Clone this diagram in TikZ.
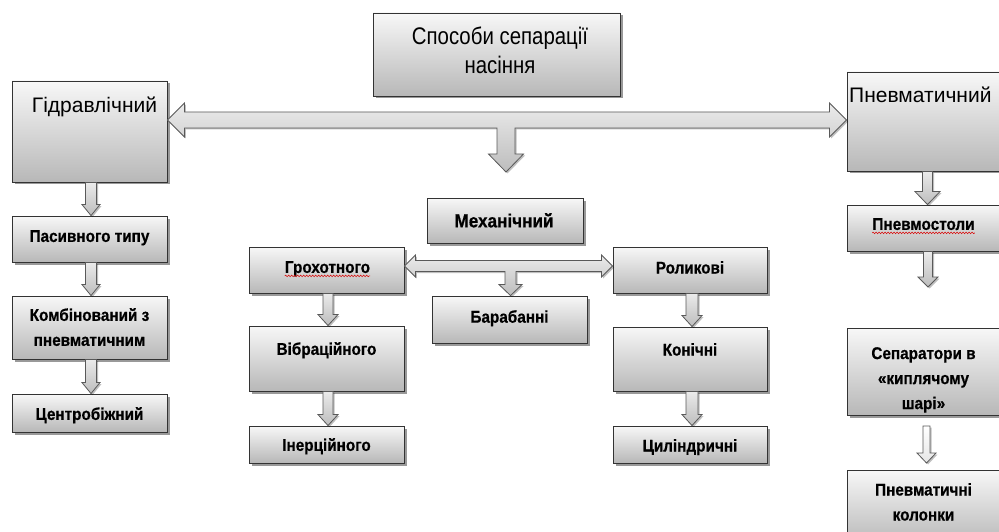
\documentclass[tikz,border=0pt]{standalone}
\usepackage{fontspec}
\setmainfont{Liberation Sans}
\newfontfamily\topfont[FakeStretch=0.85]{Liberation Sans}
\newfontfamily\boldfont[FakeStretch=0.9,FakeBold=0.6]{Liberation Sans}
\usetikzlibrary{shadows,calc,decorations.pathmorphing}

\tikzset{
  box/.style={rectangle, draw=black!80, line width=0.9pt, top color=black!3, bottom color=black!28,
    drop shadow={shadow xshift=2.5pt, shadow yshift=-2.5pt, opacity=0.4, fill=black}, inner sep=0pt},
  btxt/.style={font=\boldfont\bfseries\fontsize{17}{25}\selectfont, inner sep=0pt, anchor=north, align=center},
  bigtxt/.style={font=\boldfont\bfseries\fontsize{19}{23}\selectfont, inner sep=0pt, anchor=north, align=center},
  rtxt/.style={font=\fontsize{21}{25}\selectfont, inner sep=0pt, anchor=north},
  toptxt/.style={font=\topfont\fontsize{24}{29}\selectfont, inner sep=0pt, anchor=north, align=center},
  blockarrow/.style={draw=black!65, line width=0.8pt, top color=black!8, bottom color=black!26, line join=miter,
    drop shadow={shadow xshift=1.5pt, shadow yshift=-1.5pt, opacity=0.25, fill=black}},
  squiggle/.style={draw=red!85!black, line width=0.5pt, decorate, decoration={snake, amplitude=0.8pt, segment length=3pt}},
}

\newcommand{\bx}[5]{\node[box, minimum width={(#4-(#2))*1pt}, minimum height={(#5-(#3))*1pt}] (#1) at ({(#2+#4)/2},{(#3+#5)/2}) {};}
\newcommand{\vba}[6][]{%
  \path[blockarrow,#1] let \p1=#2, \p2=#3 in
    (\x1-#4pt,\y1) -- (\x1+#4pt,\y1) -- (\x1+#4pt,\y2+#6pt) -- (\x1+#5pt,\y2+#6pt) -- (\x1,\y2)
    -- (\x1-#5pt,\y2+#6pt) -- (\x1-#4pt,\y2+#6pt) -- cycle;}

\begin{document}
\begin{tikzpicture}[x=1pt,y=-1pt]
\fill[white] (0,0) rectangle (999,532);
\useasboundingbox (0,0) rectangle (999,532);

% boxes
\bx{top}{373}{13}{620}{96}
\bx{hyd}{12}{81}{167}{182}
\bx{pnev}{847}{72}{1001}{171}
\bx{pas}{12}{216}{167}{262}
\bx{komb}{12}{296}{167}{359}
\bx{centr}{12}{394}{167}{432}
\bx{mech}{427}{198}{583}{243}
\bx{groh}{249}{247}{404}{293}
\bx{vibr}{249}{326}{404}{391}
\bx{iner}{249}{426}{404}{463}
\bx{bar}{432}{296}{587}{343}
\bx{rol}{613}{247}{767}{293}
\bx{kon}{613}{327}{767}{391}
\bx{cyl}{613}{426}{767}{463}
\bx{pstol}{847}{205}{1001}{251}
\bx{sep}{847}{328}{1001}{415}
\bx{kol}{847}{470}{1001}{545}

% main double arrow with branch down
\path[blockarrow] let \p1=(hyd.east), \p2=(pnev.west), \p3=($(pnev.west)+(0,-1.5)$), \p4=($(mech.north)+(1,0)$) in
  (\x1,\y3) -- (\x1+17pt,\y3+17pt) -- (\x1+17pt,\y3+8pt) -- (\x2-17pt,\y3+8pt) -- (\x2-17pt,\y3+17pt)
  -- (\x2,\y3) -- (\x2-17pt,\y3-17pt) -- (\x2-17pt,\y3-8pt) -- (\x4+9pt,\y3-8pt) -- (\x4+9pt,\y3-34pt)
  -- (\x4+17.5pt,\y3-34pt) -- (\x4,\y3-52pt) -- (\x4-17.5pt,\y3-34pt) -- (\x4-9pt,\y3-34pt)
  -- (\x4-9pt,\y3-8pt) -- (\x1+17pt,\y3-8pt) -- (\x1+17pt,\y3-17pt) -- cycle;

% mechanical double arrow with branch down
\path[blockarrow] let \p1=($(groh.east)+(0,-4)$), \p2=(rol.west), \p4=($(bar.north)+(1,0)$) in
  (\x1,\y1) -- (\x1+11pt,\y1+11pt) -- (\x1+11pt,\y1+5.5pt) -- (\x2-11pt,\y1+5.5pt) -- (\x2-11pt,\y1+11pt)
  -- (\x2,\y1) -- (\x2-11pt,\y1-11pt) -- (\x2-11pt,\y1-5.5pt) -- (\x4+5.5pt,\y1-5.5pt) -- (\x4+5.5pt,\y4+11pt)
  -- (\x4+11.5pt,\y4+11pt) -- (\x4,\y4) -- (\x4-11.5pt,\y4+11pt) -- (\x4-5.5pt,\y4+11pt)
  -- (\x4-5.5pt,\y1-5.5pt) -- (\x1+11pt,\y1-5.5pt) -- (\x1+11pt,\y1-11pt) -- cycle;

% vertical arrows
\vba{($(hyd.south)+(1.5,0)$)}{(pas.north)}{5.5}{9}{11}
\vba{($(pas.south)+(1.5,0)$)}{(komb.north)}{5.5}{9}{11}
\vba{($(komb.south)+(1.5,0)$)}{(centr.north)}{5.5}{9}{11}
\vba{($(groh.south)+(1.5,0)$)}{(vibr.north)}{5}{10}{11}
\vba{($(vibr.south)+(1.5,0)$)}{(iner.north)}{5}{10}{11}
\vba{($(rol.south)+(2,0)$)}{(kon.north)}{6}{10}{11}
\vba{($(kon.south)+(2,0)$)}{(cyl.north)}{6}{10}{11}
\vba{($(pnev.south)+(3.5,0)$)}{(pstol.north)}{5}{12.5}{13}
\coordinate (pend) at (927.5,287);
\vba{($(pstol.south)+(4,0)$)}{(pend)}{4.5}{10}{10}
\coordinate (sA) at (926.5,426);
\coordinate (sB) at (926.5,463);
\vba[top color=white, bottom color=black!10]{(sA)}{(sB)}{3.5}{9.5}{10}

% texts
\node[toptxt] (top-t) at (500,27) {Способи сепарації\\насіння};
\node[rtxt] (hyd-t) at (94.5,97) {Гідравлічний};
\node[rtxt, anchor=north west] (pnev-t) at (849,87) {Пневматичний};
\node[btxt] (pas-t) at (89.5,230) {Пасивного типу};
\node[btxt] (komb-t) at (89.5,308) {Комбінований з\\пневматичним};
\node[btxt] (centr-t) at (89.5,407) {Центробіжний};
\node[bigtxt] (mech-t) at (504,213) {Механічний};
\node[btxt] (groh-t) at (327.5,261) {Грохотного};
\node[btxt] (vibr-t) at (326.5,342) {Вібраційного};
\node[btxt] (iner-t) at (326.5,438) {Інерційного};
\node[btxt] (bar-t) at (509.5,310) {Барабанні};
\node[btxt] (rol-t) at (690,261) {Роликові};
\node[btxt] (kon-t) at (690,343) {Конічні};
\node[btxt] (cyl-t) at (690,439) {Циліндричні};
\node[btxt] (pstol-t) at (923.5,218) {Пневмостоли};
\node[btxt] (sep-t) at (923.5,347) {Сепаратори в\\«киплячому\\шарі»};
\node[btxt] (kol-t) at (923.5,483) {Пневматичні\\колонки};

% spell-check underlines
\draw[squiggle] ([yshift=-3pt]groh-t.base west) -- ([yshift=-3pt]groh-t.base east);
\draw[squiggle] ([yshift=-3pt]pstol-t.base west) -- ([yshift=-3pt]pstol-t.base east);
\end{tikzpicture}
\end{document}
